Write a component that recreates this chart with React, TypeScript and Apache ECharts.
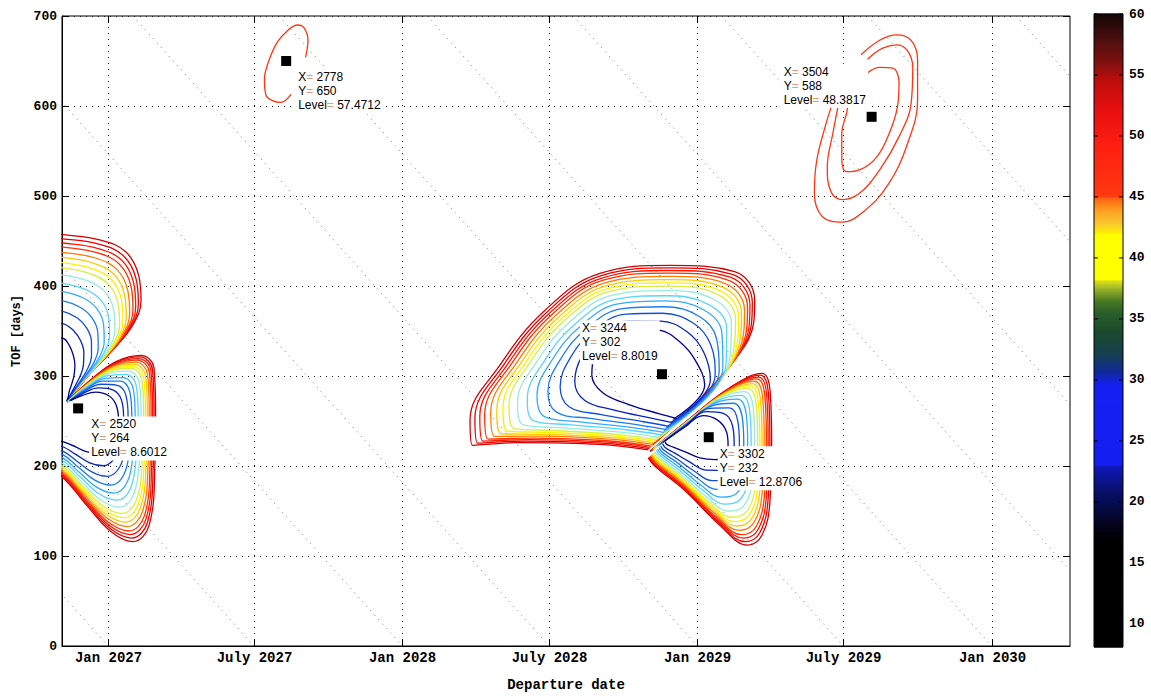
import React, { useEffect, useRef } from 'react';
import * as echarts from 'echarts';

// ---- time axis helpers (day numbers counted from 2020-01-01) ----
const EPOCH = Date.UTC(2020, 0, 1);
const dayNumber = (iso: string) => {
  const [y, m, d] = iso.split('-').map(Number);
  return Math.round((Date.UTC(y, m - 1, d) - EPOCH) / 86400000);
};

// ---- axes ----
const depMin = 2500;
const depMax = 3750;
const tofMin = 0;
const tofMax = 700;
const tofStep = 100;

const departureTicks = ['2027-01-01', '2027-07-01', '2028-01-01', '2028-07-01', '2029-01-01', '2029-07-01', '2030-01-01'];
const departureTickLabels = ['Jan 2027', 'July 2027', 'Jan 2028', 'July 2028', 'Jan 2029', 'July 2029', 'Jan 2030'];

// constant arrival-date lines (departure + TOF = arrival)
const arrivalDates = [
  '2027-01-01', '2027-07-01', '2028-01-01', '2028-07-01', '2029-01-01', '2029-07-01',
  '2030-01-01', '2030-07-01', '2031-01-01', '2031-07-01', '2032-01-01',
];

// ---- contour families: outermost and innermost level curves of each basin [departure day, TOF] ----
const upperLeftOuter = [[2462, 460], [2501, 457], [2548, 451], [2579, 438], [2595, 412], [2598, 384], [2588, 357], [2563, 329], [2536, 304], [2508, 273]];
const upperLeftInner = [[2462, 346], [2501, 342], [2509, 334], [2514, 323], [2516, 312], [2515, 301], [2512, 291], [2509, 283], [2508, 278], [2506, 272]];

const lowerLeftOuter = [[2506, 271], [2536, 296], [2567, 316], [2598, 323], [2614, 309], [2616, 262], [2615, 196], [2608, 134], [2588, 116], [2561, 127], [2530, 157], [2501, 187], [2474, 201]];
const lowerLeftInner = [[2511, 273], [2524, 278], [2542, 282], [2558, 278], [2567, 268], [2570, 252], [2567, 236], [2559, 222], [2545, 214], [2530, 216], [2515, 222], [2501, 227], [2474, 232]];

const bigLobeOuter = [[3227, 218], [3167, 224], [3068, 226], [3009, 223], [3006, 251], [3043, 312], [3099, 373], [3167, 414], [3254, 423], [3334, 416], [3359, 384], [3347, 334], [3232, 223]];
const bigLobeInner = [[3262, 253], [3241, 258], [3204, 268], [3171, 281], [3157, 301], [3161, 323], [3180, 342], [3211, 353], [3241, 351], [3266, 338], [3285, 318], [3297, 290], [3258, 252]];

const lowerLobeOuter = [[3229, 216], [3279, 253], [3328, 287], [3368, 303], [3378, 284], [3380, 229], [3378, 162], [3368, 123], [3350, 112], [3316, 134], [3272, 173], [3235, 200], [3227, 209]];
const lowerLobeInner = [[3248, 228], [3272, 243], [3295, 256], [3313, 251], [3324, 238], [3326, 223], [3321, 212], [3310, 207], [3291, 209], [3272, 216], [3258, 221], [3250, 224], [3248, 227]];

// fraction of the way from the outermost to the innermost curve for each drawn level
const ringFractions = [0, 0.04, 0.08, 0.12, 0.17, 0.22, 0.27, 0.32, 0.39, 0.47, 0.55, 0.64, 0.74, 0.86, 1];

// isolated high-energy contours
const contours3504 = [
  [[3491, 657], [3514, 673], [3535, 679], [3553, 673], [3561, 651], [3561, 607], [3548, 557], [3524, 512], [3493, 482], [3468, 471], [3443, 477], [3433, 503], [3436, 540], [3447, 579], [3454, 599]],
  [[3499, 652], [3517, 664], [3535, 668], [3548, 662], [3555, 643], [3553, 603], [3538, 566], [3514, 529], [3489, 503], [3468, 496], [3454, 504], [3449, 532], [3456, 570], [3462, 598]],
  [[3499, 637], [3514, 643], [3530, 642], [3538, 626], [3536, 599], [3526, 570], [3510, 543], [3489, 529], [3473, 527], [3467, 543], [3467, 570], [3473, 592], [3474, 598]],
];
const contour2778 = [[2802, 654], [2805, 673], [2800, 687], [2792, 690], [2780, 684], [2767, 671], [2756, 649], [2751, 629], [2753, 612], [2761, 606], [2771, 604], [2784, 613]];

// ---- data tips ----
const tipDeparture = [2520, 2778, 3244, 3302, 3504];
const tipTof = [264, 650, 302, 232, 588];
const tipLevel = ['8.6012', '57.4712', '8.8019', '12.8706', '48.3817'];

// ---- colour bar ----
const colorbarMin = 8.1;
const colorbarMax = 60;
const colorbarEdges = [8.1, 16.8, 18.2, 19.5, 21, 23, 29.6, 30.6, 32, 34, 35.5, 36.5, 37.5, 38.2, 42, 42.8, 44, 45, 49, 52, 54.5, 56, 58, 60];
const colorbarTicks = [10, 15, 20, 25, 30, 35, 40, 45, 50, 55, 60];

// ---- styles ----
const ringColors = ['#d20000', '#ea0000', '#ff1400', '#ff3200', '#ff7a00', '#ffc800', '#fff000', '#d8f040', '#98ecd8', '#58d4ff', '#34aaff', '#1c7cf4', '#104ee0', '#0622c0', '#000090'];
// each band fades from its first colour (bottom) to its second (top)
const colorbarColors = [
  ['#000000', '#000000'], ['#000000', '#03031e'], ['#03031e', '#050a44'], ['#050a44', '#08106e'], ['#08106e', '#1018c0'],
  ['#141ef0', '#1620f4'], ['#1620f4', '#10289c'], ['#10289c', '#163e52'], ['#163e52', '#1c4a2a'], ['#1c4a2a', '#28602a'],
  ['#28602a', '#4a7a22'], ['#4a7a22', '#9cb828'], ['#9cb828', '#e8e818'], ['#ffff00', '#ffff00'], ['#fff000', '#f8c830'],
  ['#f8c830', '#ff9a20'], ['#ff9a20', '#ff5a10'], ['#ff3a10', '#ff2010'], ['#ff2010', '#e81010'], ['#e81010', '#c00c0c'],
  ['#c00c0c', '#801010'], ['#801010', '#4a0e0e'], ['#4a0e0e', '#120606'],
];
const tipOffsets = [[13, 16], [12, 16], [-80, -46], [11, 17], [-88, -45]];
const monoBold = 'bold 14px "Liberation Mono"';

const blendRing = (outer: number[][], inner: number[][], f: number) =>
  outer.map((p, i) => [p[0] + (inner[i][0] - p[0]) * f, p[1] + (inner[i][1] - p[1]) * f]);

function buildOption(): any {
  const series: any[] = [];

  // arrival-date diagonals
  arrivalDates.forEach((iso) => {
    const a = dayNumber(iso);
    series.push({
      type: 'line', xAxisIndex: 0, yAxisIndex: 0, silent: true, symbol: 'none', z: 1,
      data: [[a - tofMax, tofMax], [a, tofMin]],
      lineStyle: { color: '#737373', width: 1, type: [1, 5] },
    });
  });

  // departure ticks, vertical grid lines and labels
  series.push({
    type: 'custom', xAxisIndex: 0, yAxisIndex: 0, silent: true, clip: false, z: 2,
    data: departureTicks.map((iso) => [dayNumber(iso), tofMin]),
    renderItem: (params: any, api: any) => {
      const x = api.value(0);
      const b = api.coord([x, tofMin]);
      const t = api.coord([x, tofMax]);
      const px = Math.round(b[0]) + 0.5;
      return {
        type: 'group',
        children: [
          { type: 'line', shape: { x1: px, y1: b[1], x2: px, y2: t[1] }, style: { stroke: '#1a1a1a', lineWidth: 1, lineDash: [1, 5] } },
          { type: 'line', shape: { x1: px, y1: b[1], x2: px, y2: b[1] - 7 }, style: { stroke: '#000', lineWidth: 1 } },
          { type: 'line', shape: { x1: px, y1: t[1], x2: px, y2: t[1] + 7 }, style: { stroke: '#000', lineWidth: 1 } },
          { type: 'text', x: px, y: b[1] + 5, style: { text: departureTickLabels[params.dataIndex], fill: '#000', font: monoBold, align: 'center', verticalAlign: 'top' } },
        ],
      };
    },
  });

  // nested contour families
  const families = [
    [upperLeftOuter, upperLeftInner],
    [lowerLeftOuter, lowerLeftInner],
    [bigLobeOuter, bigLobeInner],
    [lowerLobeOuter, lowerLobeInner],
  ];
  families.forEach(([outer, inner]) => {
    ringFractions.forEach((f, k) => {
      series.push({
        type: 'line', xAxisIndex: 0, yAxisIndex: 0, silent: true, symbol: 'none', z: 3, smooth: 0.4,
        data: blendRing(outer, inner, f),
        lineStyle: { color: ringColors[k], width: 1.3 },
      });
    });
  });
  [...contours3504, contour2778].forEach((c) => {
    series.push({
      type: 'line', xAxisIndex: 0, yAxisIndex: 0, silent: true, symbol: 'none', z: 3, smooth: 0.4,
      data: c,
      lineStyle: { color: '#ff3412', width: 1.3 },
    });
  });

  // data-tip markers with their readouts
  series.push({
    type: 'scatter', xAxisIndex: 0, yAxisIndex: 0, silent: true, z: 10,
    symbol: 'rect', symbolSize: 10, itemStyle: { color: '#000', opacity: 1 },
    data: tipDeparture.map((x, i) => ({
      value: [x, tipTof[i], i],
      label: { position: [tipOffsets[i][0] + 3, tipOffsets[i][1] - 3] },
    })),
    label: {
      show: true,
      opacity: 1,
      align: 'left',
      verticalAlign: 'top',
      backgroundColor: '#fff',
      padding: [1, 2, 1, 2],
      color: '#000',
      fontFamily: 'Liberation Sans',
      fontSize: 12,
      lineHeight: 14,
      formatter: (p: any) => {
        const i = p.value[2];
        return `X{e|=} ${p.value[0]}\nY{e|=} ${p.value[1]}\nLevel{e|=} ${tipLevel[i]}`;
      },
      rich: {
        e: { color: '#e89a7a', fontFamily: 'Liberation Sans', fontSize: 12, lineHeight: 14 },
      },
    },
  });

  // colour bar bands
  series.push({
    type: 'custom', xAxisIndex: 1, yAxisIndex: 2, silent: true, clip: false, z: 2,
    data: colorbarColors.map((_, i) => [colorbarEdges[i], colorbarEdges[i + 1]]),
    renderItem: (params: any, api: any) => {
      const p0 = api.coord([0, api.value(0)]);
      const p1 = api.coord([1, api.value(1)]);
      const [c0, c1] = colorbarColors[params.dataIndex];
      return {
        type: 'rect',
        shape: { x: p0[0], y: p1[1] - 0.4, width: p1[0] - p0[0], height: p0[1] - p1[1] + 0.8 },
        style: {
          fill: new echarts.graphic.LinearGradient(0, 1, 0, 0, [
            { offset: 0, color: c0 },
            { offset: 1, color: c1 },
          ]),
        },
      };
    },
  });
  // colour bar frame, ticks and labels
  series.push({
    type: 'custom', xAxisIndex: 1, yAxisIndex: 2, silent: true, clip: false, z: 4,
    data: colorbarTicks.map((v) => [0, v]),
    renderItem: (params: any, api: any) => {
      const v = api.value(1);
      const l = api.coord([0, v]);
      const r = api.coord([1, v]);
      const children: any[] = [
        { type: 'line', shape: { x1: l[0], y1: l[1], x2: l[0] + 4, y2: l[1] }, style: { stroke: '#000', lineWidth: 1 } },
        { type: 'line', shape: { x1: r[0] - 4, y1: r[1], x2: r[0], y2: r[1] }, style: { stroke: '#000', lineWidth: 1 } },
        { type: 'text', x: r[0] + 6, y: r[1], style: { text: String(v), fill: '#000', font: 'bold 13px "Liberation Mono"', align: 'left', verticalAlign: 'middle' } },
      ];
      if (params.dataIndex === 0) {
        const a = api.coord([0, colorbarMin]);
        const b = api.coord([1, colorbarMax]);
        children.push({ type: 'rect', shape: { x: a[0], y: b[1], width: b[0] - a[0], height: a[1] - b[1] }, style: { fill: 'none', stroke: '#000', lineWidth: 1 } });
      }
      return { type: 'group', children };
    },
  });

  return {
    animation: false,
    backgroundColor: '#fff',
    grid: [
      { left: 62, top: 16, width: 1008, height: 630, show: true, borderColor: '#000', borderWidth: 1, backgroundColor: 'transparent', containLabel: false, outerBoundsMode: 'none' },
      { left: 1094, top: 14, width: 29, height: 633, show: false, containLabel: false, outerBoundsMode: 'none' },
    ],
    xAxis: [
      {
        gridIndex: 0, type: 'value', min: depMin, max: depMax,
        name: 'Departure date', nameLocation: 'middle', nameGap: 32,
        nameTextStyle: { fontFamily: 'Liberation Mono', fontWeight: 'bold', fontSize: 14, color: '#000' },
        axisLine: { show: true, onZero: false, lineStyle: { color: '#000', width: 1 } },
        axisTick: { show: false }, axisLabel: { show: false }, splitLine: { show: false },
      },
      { gridIndex: 1, type: 'value', min: 0, max: 1, show: false },
    ],
    yAxis: [
      {
        gridIndex: 0, type: 'value', min: tofMin, max: tofMax, interval: tofStep, position: 'left',
        name: 'TOF [days]', nameLocation: 'middle', nameGap: 23, nameRotate: 90,
        nameTextStyle: { fontFamily: 'Liberation Mono', fontWeight: 'bold', fontSize: 12, color: '#000' },
        axisLine: { show: true, lineStyle: { color: '#000', width: 1 } },
        axisTick: { show: true, inside: true, length: 7, lineStyle: { color: '#000', width: 1 } },
        axisLabel: { show: true, margin: 5, fontFamily: 'Liberation Mono', fontWeight: 'bold', fontSize: 13, color: '#000' },
        splitLine: { show: true, lineStyle: { color: '#1a1a1a', width: 1, type: [1, 5] } },
      },
      {
        gridIndex: 0, type: 'value', min: tofMin, max: tofMax, interval: tofStep, position: 'right',
        axisLine: { show: false }, axisLabel: { show: false }, splitLine: { show: false },
        axisTick: { show: true, inside: true, length: 7, lineStyle: { color: '#000', width: 1 } },
      },
      { gridIndex: 1, type: 'value', min: colorbarMin, max: colorbarMax, show: false },
    ],
    series,
  };
}

export default function App() {
  const ref = useRef<HTMLDivElement>(null);
  useEffect(() => {
    if (!ref.current) return;
    const chart = echarts.init(ref.current, null, { renderer: 'svg' });
    chart.setOption(buildOption());
    return () => chart.dispose();
  }, []);
  return (
    <div
      ref={ref}
      style={{ position: 'absolute', left: 0, top: 0, width: 1151, height: 696, background: '#fff' }}
    />
  );
}
